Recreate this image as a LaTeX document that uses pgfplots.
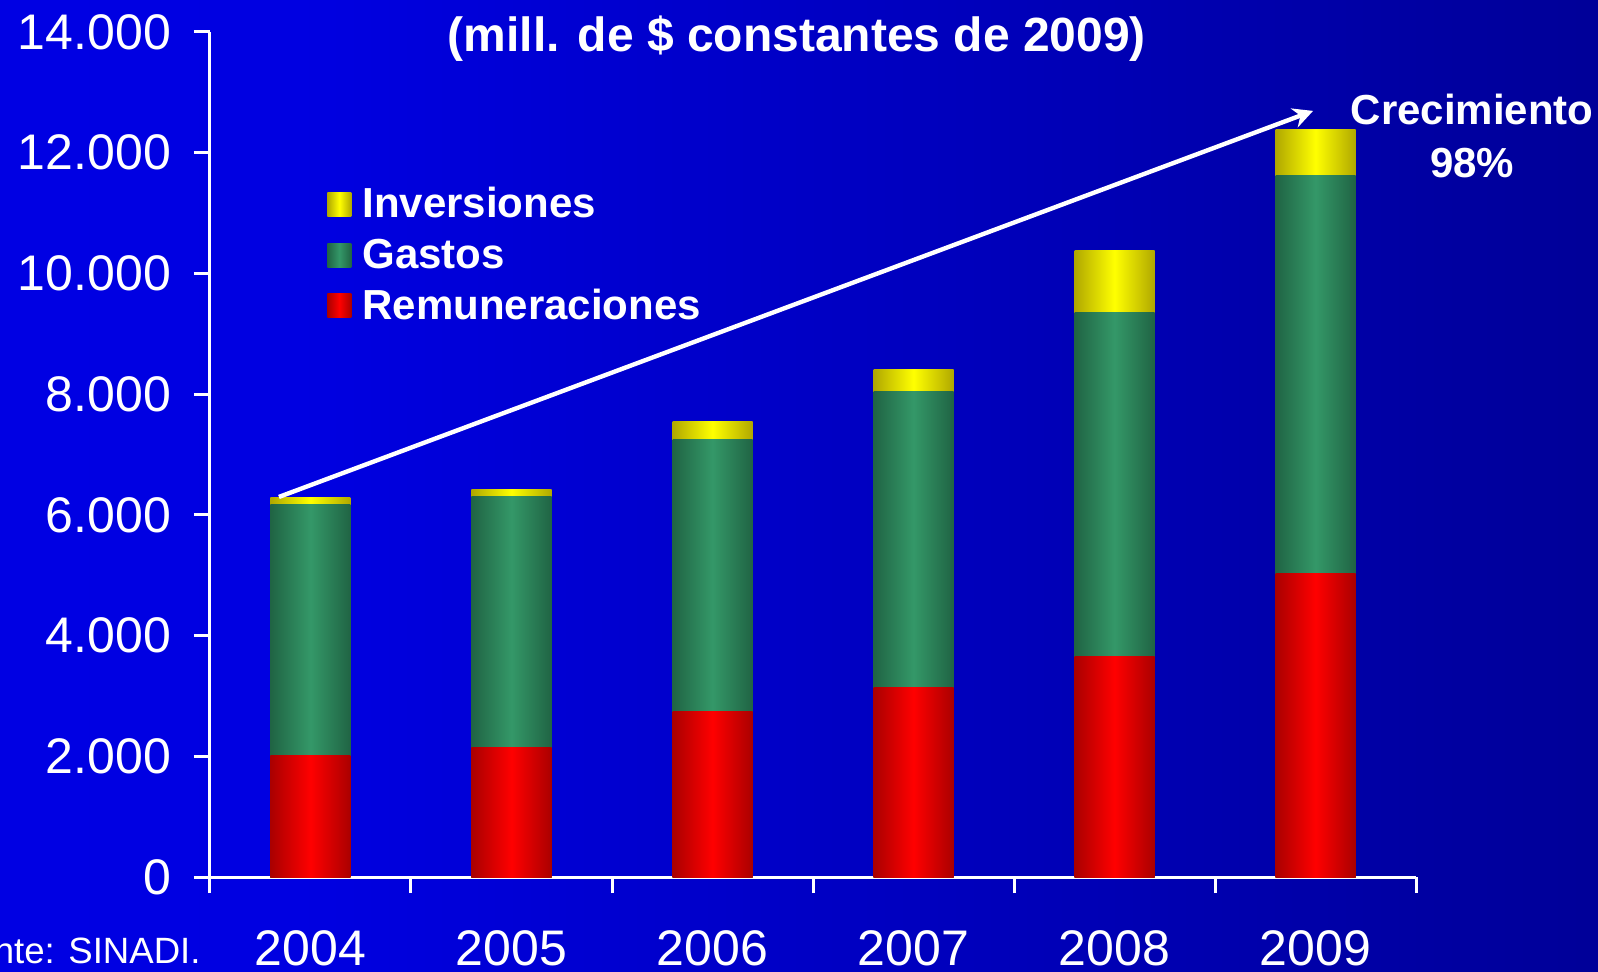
\documentclass[border=0pt]{standalone}
\usepackage{pgfplots}
\pgfplotsset{compat=1.18}
\usepackage{fontspec}
\setmainfont{Liberation Sans}
\usetikzlibrary{arrows.meta}
\definecolor{remdark}{RGB}{170,0,0}
\definecolor{remmid}{RGB}{255,0,0}
\definecolor{gasdark}{RGB}{32,100,68}
\definecolor{gasmid}{RGB}{52,152,104}
\definecolor{invdark}{RGB}{176,168,0}
\definecolor{invmid}{RGB}{255,255,0}
\pgfdeclarehorizontalshading{bgshade}{100bp}{rgb(0bp)=(0,0,0.92); rgb(35bp)=(0,0,0.88); rgb(100bp)=(0,0,0.42)}
\tikzset{
  rem/.style={draw=none, left color=remdark, right color=remdark, middle color=remmid},
  gas/.style={draw=none, left color=gasdark, right color=gasdark, middle color=gasmid},
  inv/.style={draw=none, left color=invdark, right color=invdark, middle color=invmid},
}
\pgfplotsset{onebar/.style={ybar, bar width=40pt, bar shift=0pt, forget plot}}
\begin{document}
\begin{tikzpicture}
\useasboundingbox (-105pt,-47pt) rectangle (694pt,438.5pt);
\shade[shading=bgshade] (-105pt,-47pt) rectangle (694pt,438.5pt);
\begin{axis}[
  scale only axis,
  width=603pt, height=422.5pt,
  anchor=south west, at={(0,0)},
  ybar, bar width=40pt,
  xmin=-0.5, xmax=5.5, ymin=0, ymax=14000,
  axis lines*=left,
  axis line style={white, line width=1.5pt},
  xtick={0,1,2,3,4,5},
  xticklabels={2004,2005,2006,2007,2008,2009},
  minor xtick={-0.5,0.5,1.5,2.5,3.5,4.5,5.5},
  ytick={0,2000,...,14000},
  scaled y ticks=false,
  tick align=outside,
  major tick length=8pt, minor tick length=8pt,
  major x tick style={draw=none},
  minor x tick style={white, line width=1.5pt},
  major y tick style={white, line width=1.5pt},
  yticklabel={\pgfmathprintnumber[1000 sep={.}, fixed, assume math mode=true]{\tick}},
  ticklabel style={text=white, font=\fontsize{25}{30}\selectfont},
  yticklabel style={xshift=-8pt},
  xticklabel style={yshift=-15.5pt},
  clip=false,
  legend cell align=left,
  legend style={draw=none, fill=none, text=white, font=\bfseries\fontsize{21}{25}\selectfont,
    at={(0.092,0.736)}, anchor=west, row sep=5pt},
  legend image code/.code={\path[#1, draw=none] (0pt,-6pt) rectangle (12pt,6pt);},
  legend style={nodes={inner xsep=5.5pt}},
]
% Inversiones (total height)
\addplot[onebar, inv] coordinates {(0,6283)};
\addplot[onebar, inv] coordinates {(1,6415)};
\addplot[onebar, inv] coordinates {(2,7540)};
\addplot[onebar, inv] coordinates {(3,8410)};
\addplot[onebar, inv] coordinates {(4,10380)};
\addplot[onebar, inv] coordinates {(5,12380)};
% Gastos (top of gastos)
\addplot[onebar, gas] coordinates {(0,6165)};
\addplot[onebar, gas] coordinates {(1,6300)};
\addplot[onebar, gas] coordinates {(2,7250)};
\addplot[onebar, gas] coordinates {(3,8040)};
\addplot[onebar, gas] coordinates {(4,9360)};
\addplot[onebar, gas] coordinates {(5,11620)};
% Remuneraciones
\addplot[onebar, rem] coordinates {(0,2005)};
\addplot[onebar, rem] coordinates {(1,2140)};
\addplot[onebar, rem] coordinates {(2,2750)};
\addplot[onebar, rem] coordinates {(3,3140)};
\addplot[onebar, rem] coordinates {(4,3660)};
\addplot[onebar, rem] coordinates {(5,5030)};
\addlegendimage{inv}
\addlegendentry{Inversiones}
\addlegendimage{gas}
\addlegendentry{Gastos}
\addlegendimage{rem}
\addlegendentry{Remuneraciones}
\draw[white, line width=2.2pt, -{Stealth[length=10pt,width=10pt]}] (axis cs:-0.157,6297) -- (axis cs:4.988,12693);
\node[text=white, font=\bfseries\fontsize{24}{28}\selectfont] at (axis cs:2.42,13886) {(mill. de \$ constantes de 2009)};
\node[text=white, font=\bfseries\fontsize{21}{26.5}\selectfont, align=center] at (axis cs:5.78,12270) {Crecimiento\\98\%};
\node[text=white, font=\fontsize{18.3}{22}\selectfont, anchor=base east, inner sep=0pt] at (-4.5pt,-43pt) {Fuente: SINADI.};
\end{axis}
\end{tikzpicture}
\end{document}
